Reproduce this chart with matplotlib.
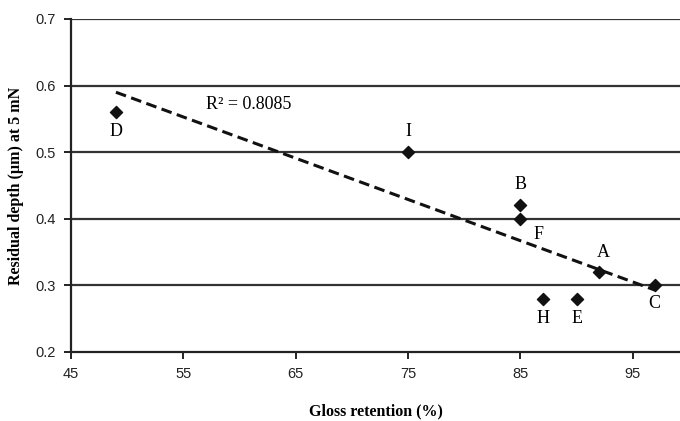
import numpy as np
import matplotlib
matplotlib.use("Agg")
import matplotlib.pyplot as plt

samples = ["D", "I", "B", "F", "A", "C", "H", "E"]
gloss = [49, 75, 85, 85, 92, 97, 87, 90]
depth = [0.56, 0.50, 0.42, 0.40, 0.32, 0.30, 0.28, 0.28]
r2_text = "R² = 0.8085"
xticks = [45, 55, 65, 75, 85, 95]
yticks = [0.2, 0.3, 0.4, 0.5, 0.6, 0.7]

label_offsets = {"D": (0, -14), "I": (0, 15), "B": (0, 15), "F": (13, -11),
                 "A": (3, 14), "C": (-1, -13), "H": (0, -14), "E": (0, -14)}

fig = plt.figure(figsize=(6.8, 4.21), dpi=100)
ax = fig.add_axes([0.1044, 0.164, 0.8956, 0.791])

for yv in yticks[1:]:
    ax.axhline(yv, color="#333333", lw=1.6, zorder=1)

ax.scatter(gloss, depth, marker="D", s=38, color="#111111", zorder=3)

coef = np.polyfit(gloss, depth, 1)
xs = np.array([min(gloss), max(gloss)])
ax.plot(xs, np.polyval(coef, xs), ls=(0, (3.5, 1.8)), color="#111111", lw=2.2, zorder=2)

serif = ["Liberation Serif", "DejaVu Serif"]
for s, x, y in zip(samples, gloss, depth):
    dx, dy = label_offsets[s]
    ax.annotate(s, (x, y), xytext=(dx, dy), textcoords="offset points",
                ha="center", va="center", fontsize=13, family=serif)

ax.text(60.8, 0.572, r2_text, ha="center", va="center", fontsize=13, family=serif)

ax.set_xlim(45, 99.2)
ax.set_ylim(0.2, 0.7)
ax.set_xticks(xticks)
ax.set_yticks(yticks)
ax.set_yticklabels([f"{v:.1f}" for v in yticks])
for sp in ["top", "right"]:
    ax.spines[sp].set_visible(False)
for sp in ["left", "bottom"]:
    ax.spines[sp].set_linewidth(1.6)
    ax.spines[sp].set_color("#222222")
ax.tick_params(direction="out", length=5, width=1.4, color="#222222",
               labelsize=10.5, pad=6)
for lab in ax.get_xticklabels() + ax.get_yticklabels():
    lab.set_family(["Liberation Sans", "DejaVu Sans"])
    lab.set_color("#222222")

ax.set_xlabel("Gloss retention (%)", fontsize=11.5, fontweight="bold", family=serif, labelpad=16)
ax.set_ylabel("Residual depth (µm) at 5 mN", fontsize=11.5, fontweight="bold", family=serif, labelpad=8)

fig.savefig("out.png", dpi=100)
